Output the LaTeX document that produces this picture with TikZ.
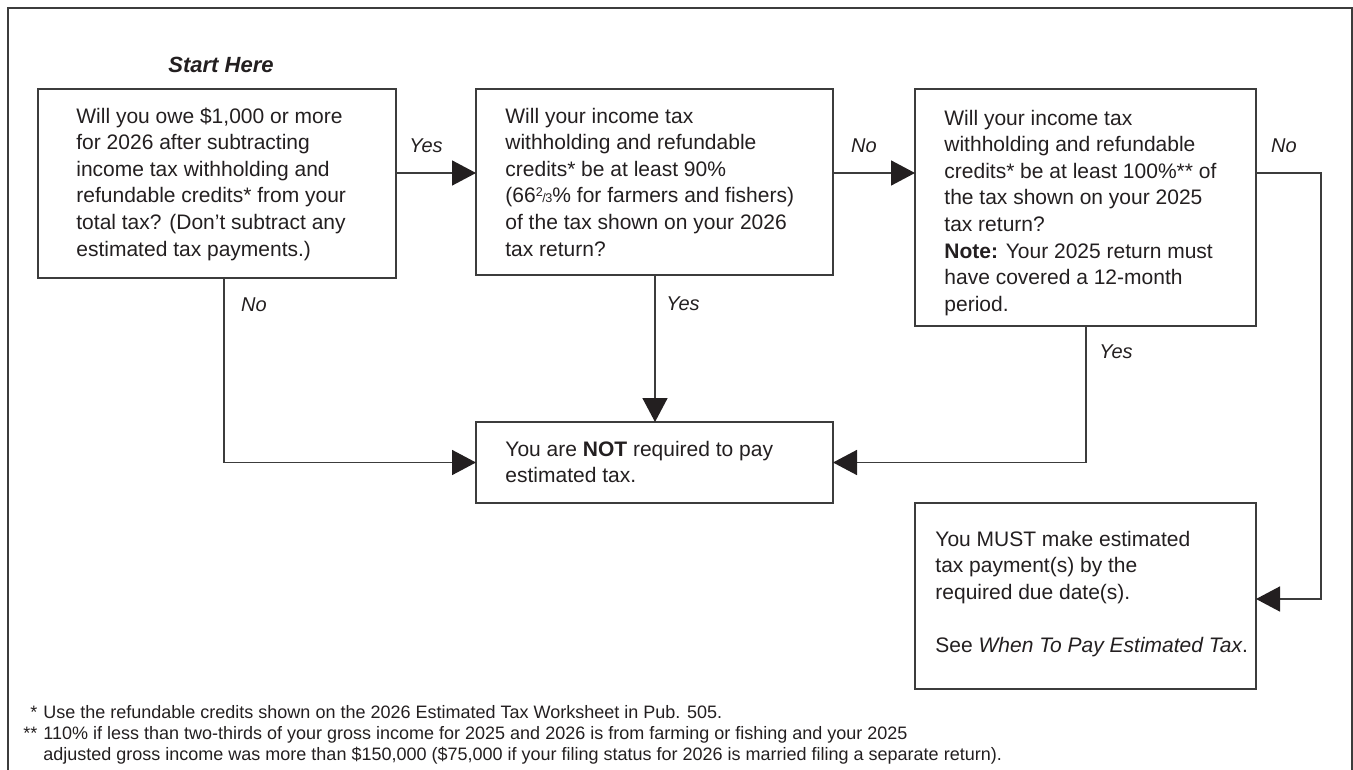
\documentclass[tikz,border=0pt]{standalone}
\usepackage{fontspec}
\setmainfont{Liberation Sans}
\usetikzlibrary{arrows.meta}
\definecolor{ink}{HTML}{231F20}
\definecolor{ln}{HTML}{3C3C3C}
\newcommand{\mainsize}{\fontsize{10.5}{13.3}\selectfont}
\newcommand{\labsize}{\fontsize{10}{13}\selectfont}
\newcommand{\twothirds}{{\fontsize{6.3}{6.3}\selectfont\raisebox{3.2pt}{2}\kern-0.2pt/\kern-0.2pt3}}
\begin{document}
\begin{tikzpicture}[x=0.5pt,y=-0.5pt,
  frame/.style={draw=ln, line width=0.8pt},
  box/.style={draw=ln, line width=0.8pt, anchor=north west, inner sep=0pt, outer sep=0pt},
  txt/.style={anchor=north west, inner sep=0pt, align=left, font=\mainsize, text=ink},
  lab/.style={inner sep=0pt, font=\labsize\itshape, text=ink},
  conn/.style={draw=ln, line width=0.8pt},
  arr/.style={conn, -{Triangle[length=12pt,width=12.5pt,color=ink,fill=ink]}},
  fn/.style={anchor=north west, inner sep=0pt, font=\fontsize{9}{10.5}\selectfont, text=ink}
]
\useasboundingbox (0,0) rectangle (1353,770);
\draw[frame] (8,800) -- (8,8) -- (1352,8) -- (1352,800);

% boxes
\node[box, minimum width=179pt, minimum height=94.5pt] (b1) at (38,89) {};
\node[box, minimum width=178.5pt, minimum height=93pt] (b2) at (476,89) {};
\node[box, minimum width=170.5pt, minimum height=118.5pt] (b3) at (915,89) {};
\node[box, minimum width=178.5pt, minimum height=40.5pt] (b4) at (476,422) {};
\node[box, minimum width=170.5pt, minimum height=93pt] (b5) at (915,503) {};

% texts
\node[lab, font=\fontsize{11}{13}\selectfont\bfseries\itshape] (start) at (221,65) {Start Here};
\node[txt] (t1) at (76,104) {\strut Will you owe \$1,000 or more\\
for 2026 after subtracting\\
income tax withholding and\\
refundable credits* from your\\
total tax? (Don’t subtract any\\
estimated tax payments.)};
\node[txt] (t2) at (505,104) {\strut Will your income tax\\
withholding and refundable\\
credits* be at least 90\%\\
(66\twothirds\% for farmers and fishers)\\
of the tax shown on your 2026\\
tax return?};
\node[txt] (t3) at (944,106) {\strut Will your income tax\\
withholding and refundable\\
credits* be at least 100\%** of\\
the tax shown on your 2025\\
tax return?\\
\textbf{Note:} Your 2025 return must\\
have covered a 12-month\\
period.};
\node[txt] (t4) at (505,437) {\strut You are \textbf{NOT} required to pay\\
estimated tax.};
\node[txt] (t5) at (935,527) {\strut You MUST make estimated\\
tax payment(s) by the\\
required due date(s).\\[13.3pt]
See \textit{When To Pay Estimated Tax}.};

% labels
\node[lab] (l1) at (426,146) {Yes};
\node[lab] (l2) at (864,146) {No};
\node[lab] (l3) at (1284,146) {No};
\node[lab] (l4) at (254,305) {No};
\node[lab] (l5) at (683,304) {Yes};
\node[lab] (l6) at (1116,352) {Yes};

% connectors
\coordinate (ry) at (0,173);
\coordinate (rc) at (1321,599);
\coordinate (lc) at (224,0);
\coordinate (mc) at (655,0);
\coordinate (nc) at (1086,0);
\draw[arr] (b1.east |- ry) -- (b2.west |- ry);
\draw[arr] (b2.east |- ry) -- (b3.west |- ry);
\draw[arr] (b3.east |- ry) -| (rc) -- (b5.east |- rc);
\draw[arr] (b1.south -| lc) |- (b4.west);
\draw[arr] (b2.south -| mc) -- (b4.north -| mc);
\draw[arr] (b3.south -| nc) |- (b4.east);

% footnotes
\node[fn] (notes) at (23,703) {\begin{tabular}{@{}r@{\hspace{3pt}}l@{}}
{*}& Use the refundable credits shown on the 2026 Estimated Tax Worksheet in Pub. 505.\\
{**}& 110\% if less than two-thirds of your gross income for 2025 and 2026 is from farming or fishing and your 2025\\
{}& adjusted gross income was more than \$150,000 (\$75,000 if your filing status for 2026 is married filing a separate return).
\end{tabular}};
\end{tikzpicture}
\end{document}
